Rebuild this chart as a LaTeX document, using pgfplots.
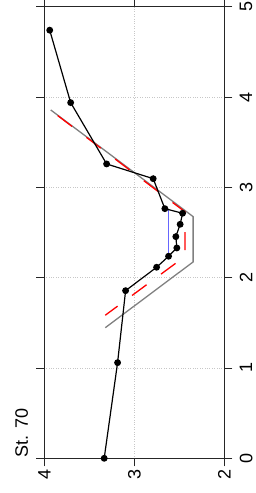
\documentclass[border=0pt]{standalone}
\usepackage{pgfplots}
\pgfplotsset{compat=1.18}
\usepackage{fontspec}
\setmainfont{Liberation Sans}
\begin{document}
\begin{tikzpicture}
\useasboundingbox (-44.5pt,-34.7pt) rectangle (211.5pt,458.3pt);
\begin{axis}[
  at={(0,0)}, anchor=south west,
  scale only axis, width=179.8pt, height=451.6pt,
  xmin=2, xmax=4, x dir=reverse,
  ymin=0, ymax=5,
  xtick={2,3,4}, ytick={0,1,2,3,4,5},
  tick align=outside, major tick length=8pt,
  yticklabel pos=right, ytick pos=both,
  xticklabel pos=bottom, xtick pos=both,
  grid=major, grid style={dotted, black!22, line width=0.5pt},
  axis line style={black!85, line width=0.8pt},
  tick style={black!85, line width=0.8pt},
  /pgf/number format/assume math mode=true,
  tick label style={font=\fontsize{18}{21}\selectfont},
  xticklabel style={rotate=90, anchor=east},
  yticklabel style={rotate=90, anchor=north, yshift=-4pt},
  clip=false,
]
% gray fitted profile
\addplot[color=black!50, line width=1.3pt] coordinates {
 (3.931,3.857) (2.347,2.676) (2.347,2.174) (3.324,1.446)};
% red dashed profile
\addplot[color=red, line width=1.3pt, dash pattern=on 18pt off 18pt] coordinates {
 (3.853,3.794) (2.436,2.728) (2.436,2.236) (3.324,1.584)};
% blue segment
\addplot[color=blue!60, line width=1pt] coordinates {
 (2.617,2.262) (2.617,2.760)};
% observed profile
\addplot[color=black, line width=1.2pt, mark=*, mark size=2.8pt] coordinates {
 (3.336,0.000) (3.187,1.059) (3.098,1.856) (2.753,2.115) (2.620,2.237)
 (2.528,2.329) (2.539,2.454) (2.491,2.591) (2.464,2.713) (2.661,2.764)
 (2.791,3.096) (3.309,3.259) (3.709,3.938) (3.942,4.740)};
\node[rotate=90, anchor=south west, inner sep=0pt, font=\fontsize{18}{21}\selectfont]
  at (axis cs:4.18,0.01) {St. 70};
\end{axis}
\end{tikzpicture}
\end{document}
